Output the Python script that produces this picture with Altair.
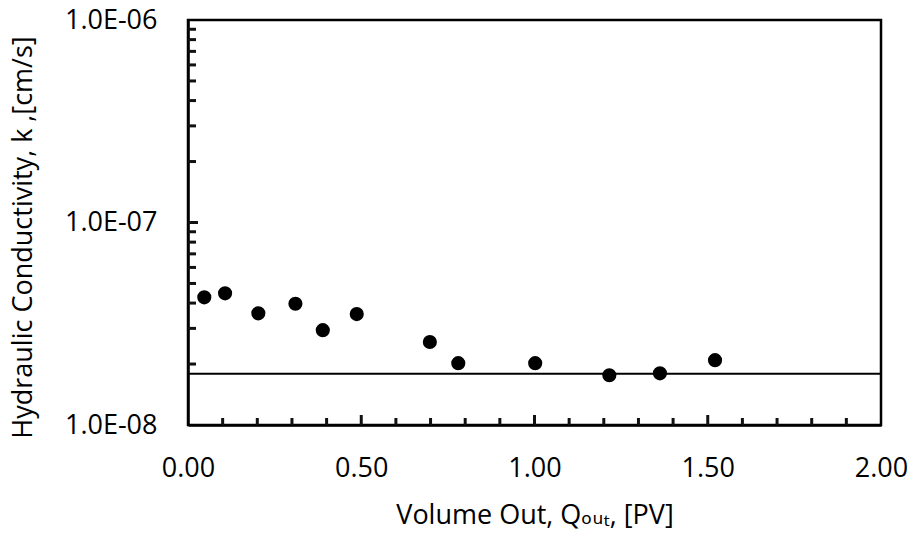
import altair as alt
import pandas as pd

# ---- data ----
volume_out = [0.047, 0.107, 0.203, 0.310, 0.389, 0.487, 0.698, 0.780, 1.002, 1.216, 1.362, 1.521]
conductivity = [4.27e-8, 4.47e-8, 3.56e-8, 3.97e-8, 2.94e-8, 3.53e-8, 2.57e-8, 2.02e-8, 2.02e-8, 1.76e-8, 1.80e-8, 2.09e-8]
reference_k = [1.79e-8]

x_tick_values = [0.0, 0.5, 1.0, 1.5, 2.0]
x_major_marks = [0.5, 1.0, 1.5]
x_minor_marks = [0.1, 0.2, 0.3, 0.4, 0.6, 0.7, 0.8, 0.9, 1.1, 1.2, 1.3, 1.4, 1.6, 1.7, 1.8, 1.9]
y_tick_values = [1e-8, 1e-7, 1e-6]
y_tick_labels = ["1.0E-08", "1.0E-07", "1.0E-06"]
y_major_marks = [1e-7]
y_minor_marks = [2e-8, 3e-8, 4e-8, 5e-8, 6e-8, 7e-8, 8e-8, 9e-8,
                 2e-7, 3e-7, 4e-7, 5e-7, 6e-7, 7e-7, 8e-7, 9e-7]

W, H = 693, 405
FONT = "Open Sans, DejaVu Sans, sans-serif"
FS = 27

pts = pd.DataFrame({"q": volume_out, "k": conductivity})

label_expr = " : ".join(
    [f"abs(log(datum.value)/LN10 - ({v:.0f})) < 0.01 ? '{lab}'" for v, lab in
     zip([-8, -7, -6], y_tick_labels)]
) + " : ''"

xscale = alt.Scale(domain=[0, 2], nice=False, zero=False)
yscale = alt.Scale(type="log", domain=[1e-8, 1e-6], nice=False)

xaxis = alt.Axis(values=x_tick_values, format=".2f", grid=False, ticks=False, tickSize=0,
                 domain=True, domainColor="black", domainWidth=2.5, labelFlush=False,
                 labelFont=FONT, labelFontSize=FS, labelColor="black", labelPadding=43,
                 labelBaseline="middle",
                 title="Volume Out, Qₒᵤₜ, [PV]", titleFont=FONT, titleFontSize=FS,
                 titleFontWeight="normal", titleColor="black",
                 titleY=90, titleBaseline="middle")
yaxis = alt.Axis(values=y_tick_values, labelExpr=label_expr, grid=False, ticks=False, tickSize=0,
                 domain=True, domainColor="black", domainWidth=2.5, labelFlush=False,
                 labelFont=FONT, labelFontSize=FS, labelColor="black", labelPadding=31,
                 labelBaseline="middle", labelAlign="right",
                 title="Hydraulic Conductivity, k ,[cm/s]", titleFont=FONT, titleFontSize=FS,
                 titleFontWeight="normal", titleColor="black",
                 titleX=-165, titleY=217, titleAngle=-90,
                 titleAlign="center", titleBaseline="middle")

points = alt.Chart(pts).mark_point(filled=True, color="black", size=200, opacity=1).encode(
    x=alt.X("q:Q", scale=xscale, axis=xaxis),
    y=alt.Y("k:Q", scale=yscale, axis=yaxis),
)

hline = alt.Chart(pd.DataFrame({"k": reference_k})).mark_rule(color="black", strokeWidth=2).encode(
    y=alt.Y("k:Q", scale=yscale)
)

# inward tick marks (lengths in pixels converted to data units)
xt = pd.DataFrame({"q": x_minor_marks + x_major_marks,
                   "len": [7] * len(x_minor_marks) + [10] * len(x_major_marks)})
yt = pd.DataFrame({"k": y_minor_marks + y_major_marks,
                   "len": [8] * len(y_minor_marks) + [10] * len(y_major_marks)})

xticks = alt.Chart(xt).mark_rule(color="#111111", strokeWidth=3, opacity=1, strokeCap="butt").encode(
    x=alt.X("q:Q", scale=xscale),
    y=alt.Y("k0:Q", scale=yscale),
    y2="k1:Q",
).transform_calculate(k0="1e-8", k1=f"1e-8 * pow(10, 2 * datum.len / {H})")

yticks = alt.Chart(yt).mark_rule(color="#111111", strokeWidth=3, opacity=1, strokeCap="butt").encode(
    y=alt.Y("k:Q", scale=yscale),
    x=alt.X("q0:Q", scale=xscale),
    x2="q1:Q",
).transform_calculate(q0="0", q1=f"2 * datum.len / {W}")

chart = alt.layer(
    hline, xticks, yticks, points,
).properties(
    width=W, height=H,
    autosize=alt.AutoSizeParams(type="none"),
    padding={"left": 188, "top": 20, "right": 32, "bottom": 114},
    background="white",
).configure_view(stroke="black", strokeWidth=2.5)

chart.save("out.html", embed_options={"renderer": "svg", "actions": False})
